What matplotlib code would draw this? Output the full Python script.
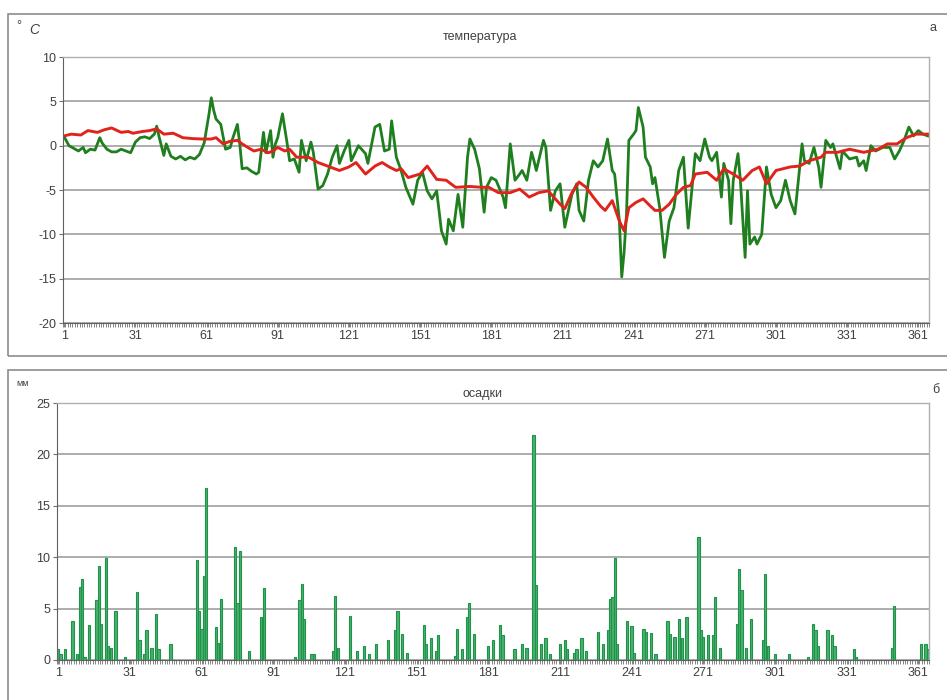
import matplotlib.pyplot as plt
from matplotlib.patches import Rectangle
from matplotlib.ticker import MultipleLocator

plt.rcParams['font.family'] = ['Liberation Sans', 'DejaVu Sans']
plt.rcParams['axes.unicode_minus'] = False

# температура: фактична (зелена) - дні та значення, зчитані з рисунку
temp_days = [1, 3, 5, 7, 9, 10, 12, 14, 16, 17, 19, 21, 23, 25, 27, 29, 31, 33, 35, 37,
             39, 40, 41, 43, 44, 46, 48, 50, 52, 54, 56, 58, 60, 62, 63, 64, 65, 67, 69, 71,
             72, 74, 75, 76, 78, 80, 82, 83, 85, 86, 88, 89, 90, 91, 93, 95, 96, 98, 100, 101,
             103, 105, 106, 108, 110, 112, 114, 116, 117, 119, 121, 122, 125, 128, 129, 132, 134, 136, 138, 139,
             141, 143, 145, 148, 150, 152, 154, 156, 158, 160, 162, 163, 165, 167, 169, 171, 172, 174, 176, 178,
             179, 181, 183, 186, 187, 189, 191, 193, 194, 196, 198, 199, 200, 203, 204, 206, 208, 210, 212, 215,
             217, 218, 220, 222, 224, 226, 228, 230, 232, 233, 235, 236, 237, 238, 239, 241, 242, 243, 245, 246,
             248, 249, 250, 252, 254, 256, 258, 260, 262, 264, 267, 269, 271, 273, 274, 276, 278, 279, 281, 282,
             283, 285, 286, 288, 289, 290, 292, 293, 295, 297, 299, 301, 303, 305, 307, 309, 310, 312, 313, 315,
             317, 319, 320, 322, 324, 325, 328, 329, 332, 335, 336, 338, 339, 341, 343, 346, 349, 351, 353, 355,
             357, 359, 361, 363, 365]
temp_vals = [1.0, 0.0, -0.3, -0.6, -0.2, -0.8, -0.4, -0.5, 0.9, 0.3, -0.4, -0.7, -0.7, -0.4, -0.6, -0.8, 0.4, 0.9, 1.0, 0.8,
             1.3, 2.2, 1.0, -1.1, 0.2, -1.2, -1.5, -1.2, -1.6, -1.3, -1.5, -1.0, 0.3, 3.5, 5.4, 4.0, 3.0, 2.4, -0.4, -0.2,
             0.8, 2.4, 0.2, -2.6, -2.5, -2.9, -3.2, -3.0, 1.5, -0.8, 1.7, -1.3, 0.2, 0.9, 3.6, 0.2, -1.7, -1.5, -3.0, 0.6,
             -1.7, 0.4, -0.75, -4.9, -4.5, -3.2, -1.3, 0.0, -2.0, -0.6, 0.6, -1.7, 0.0, -0.9, -2.0, 2.1, 2.4, -0.6, -0.4, 2.8,
             -1.3, -2.8, -4.7, -6.6, -3.9, -3.0, -5.1, -6.0, -5.1, -9.6, -11.1, -8.3, -9.6, -5.5, -9.2, -1.3, 0.75, -0.4, -2.6, -7.5,
             -4.7, -3.6, -3.9, -5.8, -7.0, 0.2, -3.9, -3.2, -2.8, -3.9, -0.75, -1.7, -2.8, 0.6, -0.2, -7.3, -5.1, -4.3, -9.2, -5.5,
             -4.3, -7.3, -8.5, -3.9, -1.7, -2.4, -1.7, 0.75, -2.8, -3.2, -8.5, -14.8, -12.0, -7.7, 0.6, 1.3, 1.7, 4.3, 2.1, -1.3,
             -2.4, -4.3, -3.6, -7.0, -12.6, -8.5, -7.0, -2.8, -1.3, -9.3, -0.9, -1.7, 0.75, -1.3, -1.7, -0.75, -5.8, -2.0, -3.9, -8.8,
             -3.9, -0.9, -3.9, -12.6, -5.1, -11.1, -10.3, -11.1, -10.0, -2.4, -5.5, -7.0, -6.2, -3.9, -6.2, -7.7, -5.1, 0.2, -1.7, -2.0,
             -0.2, -2.4, -4.7, 0.6, -0.2, 0.2, -2.6, -0.6, -1.5, -1.3, -2.3, -1.7, -2.8, 0.0, -0.6, -0.2, -0.2, -1.5, -0.6, 0.6,
             2.1, 1.1, 1.7, 1.3, 1.1]

# температура: норма (червона)
norm_days = [1, 4, 8, 11, 15, 18, 21, 25, 28, 30, 34, 37, 40, 43, 47, 51, 55, 59, 63, 65,
             68, 71, 74, 76, 79, 81, 84, 87, 89, 91, 94, 96, 99, 104, 108, 112, 117, 121, 124, 128,
             132, 135, 138, 141, 143, 146, 151, 154, 158, 162, 166, 172, 177, 180, 184, 189, 193, 197, 201, 205,
             210, 212, 215, 218, 221, 224, 227, 229, 232, 235, 237, 239, 242, 245, 248, 250, 253, 256, 259, 262,
             265, 267, 272, 276, 279, 283, 287, 291, 294, 297, 301, 307, 311, 315, 320, 322, 327, 332, 338, 344,
             348, 352, 356, 360, 365]
norm_vals = [1.1, 1.3, 1.2, 1.7, 1.5, 1.8, 2.0, 1.5, 1.6, 1.4, 1.6, 1.7, 1.9, 1.3, 1.4, 0.9, 0.8, 0.75, 0.75, 0.9,
             0.2, 0.5, 0.6, 0.2, -0.3, -0.6, -0.4, -0.8, -0.6, -0.2, -0.6, -0.4, -1.3, -1.3, -1.9, -2.3, -2.8, -2.4, -1.9, -3.2,
             -2.3, -1.9, -2.4, -2.8, -2.6, -3.6, -3.2, -2.3, -3.8, -3.9, -4.7, -4.6, -4.7, -4.7, -5.3, -5.3, -4.9, -5.8, -5.3, -5.1,
             -6.6, -7.1, -5.3, -4.1, -4.7, -5.8, -6.8, -7.3, -6.2, -8.5, -9.6, -7.0, -6.4, -6.0, -6.8, -7.3, -7.3, -6.6, -5.5, -4.7,
             -4.5, -3.2, -3.0, -3.9, -2.6, -3.2, -3.9, -2.8, -2.4, -4.3, -2.8, -2.4, -2.3, -1.7, -1.3, -0.75, -0.75, -0.4, -0.75, -0.4,
             0.2, 0.2, 0.9, 1.3, 1.3]

# осадки: дні з опадами та кількість, мм
prec_days = [1, 2, 4, 7, 9, 10, 11, 12, 14, 17, 18, 19, 21, 22, 23, 25, 29, 34, 35, 37,
             38, 40, 42, 43, 48, 59, 60, 61, 62, 63, 67, 68, 69, 75, 76, 77, 81, 86, 87, 100,
             102, 103, 104, 107, 108, 116, 117, 118, 123, 126, 129, 131, 134, 139, 142, 143, 145, 147, 154, 155,
             157, 159, 160, 167, 168, 170, 172, 173, 175, 181, 183, 186, 187, 192, 195, 197, 200, 201, 203, 205,
             207, 211, 213, 214, 217, 218, 220, 222, 227, 229, 231, 232, 233, 234, 235, 239, 241, 242, 246, 247,
             249, 251, 256, 257, 259, 261, 262, 264, 269, 270, 271, 273, 275, 276, 278, 285, 286, 287, 289, 291,
             296, 297, 298, 301, 307, 315, 317, 318, 319, 323, 325, 326, 334, 335, 350, 351, 362, 364, 365]
prec_vals = [1.1, 0.6, 1.1, 3.8, 0.6, 7.1, 7.9, 0.3, 3.4, 5.8, 9.1, 3.5, 9.9, 1.4, 1.2, 4.8, 0.3, 6.6, 1.9, 0.6,
             2.9, 1.2, 4.5, 1.1, 1.6, 9.7, 4.8, 3.0, 8.2, 16.7, 3.2, 1.7, 5.9, 11.0, 5.5, 10.6, 0.9, 4.2, 7.0, 0.3,
             5.8, 7.4, 4.0, 0.6, 0.6, 0.9, 6.2, 1.2, 4.3, 0.9, 1.4, 0.6, 1.6, 1.9, 2.9, 4.8, 2.5, 0.7, 3.4, 1.6,
             2.1, 0.9, 2.4, 0.4, 3.0, 1.1, 4.2, 5.5, 2.5, 1.4, 1.9, 3.4, 2.4, 1.1, 1.6, 1.2, 21.9, 7.3, 1.6, 2.1,
             0.6, 1.6, 1.9, 1.1, 0.7, 1.1, 2.1, 0.9, 2.7, 1.6, 2.9, 5.9, 6.1, 9.9, 1.6, 3.8, 3.3, 0.7, 3.0, 2.7,
             2.6, 0.6, 3.8, 2.5, 2.2, 4.0, 2.1, 4.2, 12.0, 2.9, 2.2, 2.4, 2.4, 6.1, 1.2, 3.5, 8.9, 6.8, 1.2, 4.0,
             1.9, 8.4, 1.4, 0.6, 0.6, 0.3, 3.5, 2.9, 1.4, 2.9, 2.4, 1.4, 1.1, 0.3, 1.2, 5.3, 1.6, 1.6, 1.1]

day_ticks = list(range(1, 362, 30))
text_col = '#404040'
grid_col = '#a6a6a6'

W, H = 947, 700
fig = plt.figure(figsize=(W / 100, H / 100), dpi=100)


def fx(px):
    return px / W


def fy(py):
    return 1 - py / H


# рамки областей діаграм
for top, bot in [(14, 356), (370, 712)]:
    fig.patches.append(Rectangle((fx(8), fy(bot)), fx(960) - fx(8), fy(top) - fy(bot),
                                 transform=fig.transFigure, fill=False,
                                 edgecolor='#8c8c8c', linewidth=1.2))


def style_axes(ax):
    ax.set_xlim(0.5, 365.5)
    ax.set_xticks(day_ticks)
    ax.set_xticks([d + 0.5 for d in range(0, 366)], minor=True)
    ax.tick_params(axis='x', which='minor', length=3, width=0.6, color='#707070')
    ax.tick_params(axis='x', which='major', length=3, width=0.6, color='#707070',
                   labelsize=9, labelcolor=text_col, pad=2)
    ax.tick_params(axis='y', length=3, width=0.8, color='#707070',
                   labelsize=9, labelcolor=text_col, pad=2)
    ax.grid(axis='y', color=grid_col, linewidth=1.3)
    ax.set_axisbelow(True)
    for s in ['top', 'right']:
        ax.spines[s].set_color('#b0b0b0')
        ax.spines[s].set_linewidth(1.0)
    ax.spines['left'].set_color('#606060')
    ax.spines['bottom'].set_color('#606060')


# верхня панель — температура
ax1 = fig.add_axes([fx(63), fy(323), fx(929) - fx(63), fy(57) - fy(323)])
ax1.plot(temp_days, temp_vals, color='#1f7f1f', linewidth=2.0)
ax1.plot(norm_days, norm_vals, color='#e0241c', linewidth=2.1)
ax1.set_ylim(-20, 10)
ax1.yaxis.set_major_locator(MultipleLocator(5))
style_axes(ax1)

fig.text(fx(16), fy(26), '°', fontsize=9, color=text_col, va='center')
fig.text(fx(29), fy(30), 'C', fontsize=10, color=text_col, va='center', style='italic')
fig.text(fx(480), fy(37), 'температура', fontsize=9, color=text_col, ha='center', va='center')
fig.text(fx(933), fy(28), 'а', fontsize=9, color=text_col, ha='center', va='center')

# нижня панель — осадки
ax2 = fig.add_axes([fx(57), fy(660), fx(929) - fx(57), fy(403) - fy(660)])
ax2.bar(prec_days, prec_vals, width=0.95, color='#4cb070', edgecolor='#1e9448', linewidth=0.8)
ax2.set_ylim(0, 25)
ax2.yaxis.set_major_locator(MultipleLocator(5))
style_axes(ax2)

fig.text(fx(23), fy(384), 'мм', fontsize=6.5, color=text_col, ha='center', va='center')
fig.text(fx(482), fy(394), 'осадки', fontsize=9, color=text_col, ha='center', va='center')
fig.text(fx(936), fy(390), 'б', fontsize=9, color=text_col, ha='center', va='center')

fig.savefig('out.png', dpi=100)
